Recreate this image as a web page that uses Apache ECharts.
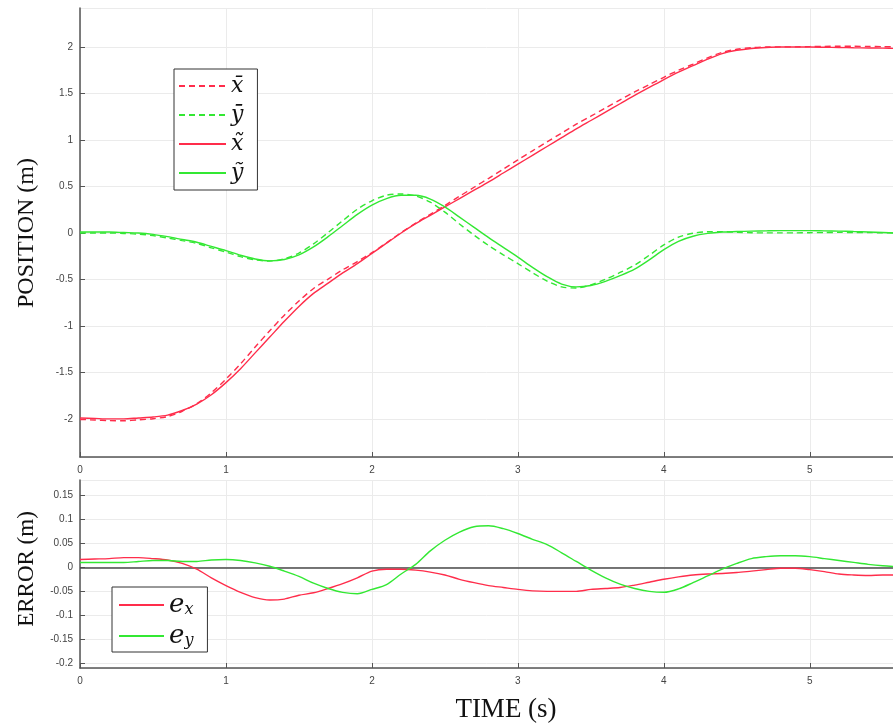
<!DOCTYPE html>
<html><head><meta charset="utf-8">
<script src="https://cdn.jsdelivr.net/npm/echarts@6/dist/echarts.min.js"></script>
<style>html,body{margin:0;padding:0;background:#fff}#c{width:893px;height:724px}</style>
</head><body><div id="c"></div>
<script>
// ---- data ----
const t = [0,0.1,0.2,0.3,0.4,0.5,0.6,0.7,0.8,0.9,1.0,1.1,1.2,1.3,1.4,1.5,1.6,1.7,1.8,1.9,2.0,2.1,2.2,2.3,2.4,2.5,2.6,2.7,2.8,2.9,3.0,3.1,3.2,3.3,3.4,3.5,3.6,3.7,3.8,3.9,4.0,4.1,4.2,4.3,4.4,4.5,4.6,4.7,4.8,4.9,5.0,5.1,5.2,5.3,5.4,5.5,5.6];
const xBar = [-2.006,-2.012,-2.018,-2.02,-2.01,-1.998,-1.975,-1.918,-1.836,-1.718,-1.572,-1.408,-1.227,-1.052,-0.884,-0.732,-0.597,-0.496,-0.396,-0.308,-0.212,-0.106,0.004,0.106,0.20,0.296,0.395,0.492,0.588,0.687,0.786,0.884,0.98,1.075,1.17,1.256,1.344,1.432,1.517,1.596,1.675,1.75,1.816,1.884,1.943,1.976,1.993,2.0,2.002,2.002,2.005,2.007,2.009,2.008,2.007,2.004,2.001];
const yBar = [0.0,0.0,0.0,-0.005,-0.012,-0.029,-0.054,-0.082,-0.112,-0.16,-0.206,-0.254,-0.289,-0.302,-0.277,-0.216,-0.117,0.004,0.132,0.255,0.346,0.406,0.419,0.399,0.331,0.224,0.097,-0.024,-0.136,-0.235,-0.33,-0.428,-0.517,-0.58,-0.592,-0.559,-0.498,-0.425,-0.346,-0.24,-0.128,-0.045,-0.003,0.013,0.014,0.007,0.002,0.001,0.001,0.001,0.003,0.004,0.006,0.005,0.004,0.002,-0.001];
const xTilde = [-1.99,-1.995,-2.0,-2.0,-1.99,-1.98,-1.96,-1.91,-1.84,-1.74,-1.61,-1.46,-1.29,-1.12,-0.95,-0.79,-0.65,-0.54,-0.43,-0.33,-0.22,-0.11,0.0,0.10,0.19,0.28,0.37,0.46,0.55,0.645,0.74,0.835,0.93,1.025,1.12,1.21,1.30,1.39,1.48,1.565,1.65,1.73,1.80,1.87,1.93,1.965,1.985,1.995,2.0,2.0,2.0,1.998,1.995,1.992,1.99,1.988,1.985];
const yTilde = [0.01,0.01,0.01,0.005,0.0,-0.015,-0.04,-0.07,-0.10,-0.145,-0.19,-0.24,-0.28,-0.30,-0.285,-0.235,-0.15,-0.04,0.08,0.20,0.30,0.37,0.405,0.405,0.365,0.28,0.17,0.06,-0.05,-0.155,-0.26,-0.37,-0.47,-0.55,-0.58,-0.565,-0.52,-0.46,-0.39,-0.29,-0.18,-0.09,-0.035,-0.005,0.01,0.015,0.02,0.023,0.025,0.025,0.025,0.022,0.02,0.015,0.01,0.005,0.0];
const ex = [0.016,0.017,0.018,0.020,0.020,0.018,0.015,0.008,-0.004,-0.022,-0.038,-0.052,-0.063,-0.068,-0.066,-0.058,-0.053,-0.044,-0.034,-0.022,-0.008,-0.004,-0.004,-0.006,-0.010,-0.016,-0.025,-0.032,-0.038,-0.042,-0.046,-0.049,-0.050,-0.050,-0.050,-0.046,-0.044,-0.042,-0.037,-0.031,-0.025,-0.020,-0.016,-0.014,-0.013,-0.011,-0.008,-0.005,-0.002,-0.002,-0.005,-0.009,-0.014,-0.016,-0.017,-0.016,-0.016];
const ey = [0.010,0.010,0.010,0.010,0.012,0.014,0.014,0.012,0.012,0.015,0.016,0.014,0.009,0.002,-0.008,-0.019,-0.033,-0.044,-0.052,-0.055,-0.046,-0.036,-0.014,0.006,0.034,0.056,0.073,0.084,0.086,0.080,0.070,0.058,0.047,0.030,0.012,-0.006,-0.022,-0.035,-0.044,-0.050,-0.052,-0.045,-0.032,-0.018,-0.004,0.008,0.018,0.022,0.024,0.024,0.022,0.018,0.014,0.010,0.006,0.003,0.001];

const posNames = ['x\u0304','y\u0304','x\u0303','y\u0303'];
const errNames = ['ex','ey'];
const xTickLabels = ['0','1','2','3','4','5'];

// ---- chart ----
const RED = '#ff2d4b', GREEN = '#33e833', AX = '#555';
const pair = (tt, v) => tt.map((x, i) => [x, v[i]]);

function xAx(g) {
  return {
    type: 'value', gridIndex: g, min: 0, max: 5.57, interval: 1,
    axisLine: { show: true, onZero: false, lineStyle: { color: AX, width: 1.5 } },
    axisTick: { show: true, inside: true, length: 5, lineStyle: { color: AX } },
    axisLabel: { fontSize: 10, color: '#444', margin: 8, fontFamily: 'Liberation Sans',
      showMaxLabel: false,
      formatter: v => (Math.abs(v - Math.round(v)) < 1e-6 && xTickLabels[Math.round(v)] !== undefined) ? xTickLabels[Math.round(v)] : '' },
    splitLine: { show: true, lineStyle: { color: '#ebebeb', width: 1 } }
  };
}
function yAx(g, min, max, split, step) {
  return {
    type: 'value', gridIndex: g, min: min, max: max, splitNumber: split,
    axisLine: { show: true, onZero: false, lineStyle: { color: AX, width: 1.5 } },
    axisTick: { show: true, inside: true, length: 5, lineStyle: { color: AX } },
    axisLabel: { fontSize: 10, color: '#444', margin: 7, fontFamily: 'Liberation Sans',
      showMinLabel: false, showMaxLabel: false,
      formatter: v => { const k = v / step; return Math.abs(k - Math.round(k)) < 1e-6 ? String(Number(v.toFixed(2))) : ''; } },
    splitLine: { show: true, lineStyle: { color: '#ebebeb', width: 1 } }
  };
}
function line(name, xi, data, color, dashed) {
  return {
    name: name, type: 'line', xAxisIndex: xi, yAxisIndex: xi, data: data,
    symbol: 'none', showSymbol: false, smooth: 0.3, silent: true,
    lineStyle: { color: color, width: 1.4, type: dashed ? [6, 4] : 'solid' },
    itemStyle: { color: color }
  };
}

const option = {
  animation: false,
  backgroundColor: '#fff',
  grid: [
    { left: 80, top: 8, width: 813, height: 449 },
    { left: 80, top: 480, width: 813, height: 188 }
  ],
  xAxis: [xAx(0), xAx(1)],
  yAxis: [yAx(0, -2.41, 2.42, 10, 0.5), yAx(1, -0.209, 0.181, 8, 0.05)],
  legend: [
    {
      data: posNames, orient: 'vertical', left: 174, top: 69,
      itemWidth: 47, itemHeight: 14, itemGap: 7, selectedMode: false,
      itemStyle: { opacity: 0, borderWidth: 0 },
      padding: [6, 14, 6, 4], borderColor: '#333', borderWidth: 1, backgroundColor: '#fff',
      textStyle: { fontFamily: 'DejaVu Serif', fontStyle: 'italic', fontSize: 22, color: '#111', lineHeight: 22 }
    },
    {
      data: errNames, orient: 'vertical', left: 112, top: 587,
      itemWidth: 45, itemHeight: 14, itemGap: 3, selectedMode: false,
      itemStyle: { opacity: 0, borderWidth: 0 },
      padding: [3, 14, 3, 6], borderColor: '#333', borderWidth: 1, backgroundColor: '#fff',
      formatter: n => n === 'ex' ? '{e|e}{s|x}' : '{e|e}{s|y}',
      textStyle: {
        color: '#111',
        rich: {
          e: { fontFamily: 'DejaVu Serif', fontStyle: 'italic', fontSize: 26, lineHeight: 26, verticalAlign: 'top', color: '#111' },
          s: { fontFamily: 'DejaVu Serif', fontStyle: 'italic', fontSize: 16, lineHeight: 16, padding: [12, 0, 0, 0], verticalAlign: 'bottom', color: '#111' }
        }
      }
    }
  ],
  graphic: [
    { type: 'text', x: 27, y: 233, rotation: Math.PI / 2,
      style: { text: 'POSITION (m)', align: 'center', verticalAlign: 'middle', font: '24px "Liberation Serif"', fill: '#111' } },
    { type: 'text', x: 27, y: 569, rotation: Math.PI / 2,
      style: { text: 'ERROR (m)', align: 'center', verticalAlign: 'middle', font: '23px "Liberation Serif"', fill: '#111' } },
    { type: 'text', x: 506, y: 710,
      style: { text: 'TIME (s)', align: 'center', verticalAlign: 'middle', font: '27px "Liberation Serif"', fill: '#111' } }
  ],
  series: [
    line(posNames[0], 0, pair(t, xBar), RED, true),
    line(posNames[1], 0, pair(t, yBar), GREEN, true),
    line(posNames[2], 0, pair(t, xTilde), RED, false),
    line(posNames[3], 0, pair(t, yTilde), GREEN, false),
    Object.assign(line(errNames[0], 1, pair(t, ex), RED, false), {
      markLine: { silent: true, symbol: ['none', 'none'], label: { show: false },
        lineStyle: { color: '#4a4a4a', width: 1.5, type: 'solid' }, data: [{ yAxis: 0 }], z: 1 }
    }),
    line(errNames[1], 1, pair(t, ey), GREEN, false)
  ]
};
const chart = echarts.init(document.getElementById('c'));
chart.setOption(option);
</script>
</body></html>
